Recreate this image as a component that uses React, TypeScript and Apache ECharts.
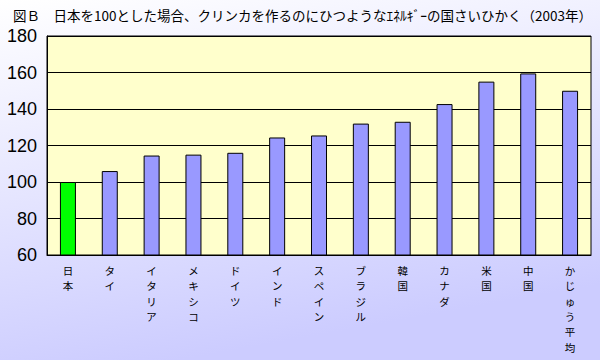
import React, { useEffect, useRef } from "react";
import * as echarts from "echarts";

const titleText = "図Ｂ　日本を100とした場合、クリンカを作るのにひつようなｴﾈﾙｷﾞｰの国さいひかく（2003年）";
const categories = ["日本", "タイ", "イタリア", "メキシコ", "ドイツ", "インド", "スペイン", "ブラジル", "韓国", "カナダ", "米国", "中国", "かじゅう平均"];
const values = [100, 106, 114.5, 115, 116, 124.4, 125.5, 132, 133, 142.7, 155, 159.5, 150];
const highlight = "日本";
const yMin = 60;
const yMax = 180;
const yInterval = 20;

export default function App() {
  const ref = useRef<HTMLDivElement>(null);
  useEffect(() => {
    if (!ref.current) return;
    const chart = echarts.init(ref.current, undefined, { renderer: "svg" });
    chart.setOption({
      animation: false,
      backgroundColor: {
        type: "linear",
        x: 0, y: 0, x2: 0.3, y2: 1,
        colorStops: [
          { offset: 0, color: "#ffffff" },
          { offset: 1, color: "#ccccff" },
        ],
      },
      title: {
        text: titleText,
        left: 8,
        top: 3,
        textStyle: { fontSize: 13.5, fontWeight: "normal", color: "#000", fontFamily: "Noto Sans CJK JP" },
      },
      grid: {
        left: 47,
        right: 9,
        top: 36,
        bottom: 105,
        show: true,
        backgroundColor: "#ffffcc",
        borderColor: "#000",
        borderWidth: 1,
      },
      xAxis: {
        type: "category",
        data: categories,
        axisLine: { lineStyle: { color: "#000", width: 1 } },
        axisTick: { inside: true, length: 4, lineStyle: { color: "#000" }, alignWithLabel: false },
        axisLabel: {
          interval: 0,
          color: "#000",
          fontSize: 10.5,
          lineHeight: 15.3,
          margin: 8,
          fontFamily: "Noto Sans CJK JP",
          formatter: (v: string) => v.split("").join("\n"),
        },
      },
      yAxis: {
        type: "value",
        min: yMin,
        max: yMax,
        interval: yInterval,
        axisLine: { show: true, lineStyle: { color: "#000" } },
        axisTick: { show: false },
        splitLine: { lineStyle: { color: "#000", width: 1 } },
        axisLabel: { color: "#000", fontSize: 18, margin: 10, fontFamily: "Liberation Sans" },
      },
      series: [
        {
          type: "bar",
          barWidth: 16,
          data: values.map((v, i) => ({
            value: v,
            itemStyle: { color: categories[i] === highlight ? "#00ff00" : "#9999ff" },
          })),
          itemStyle: { borderColor: "#000", borderWidth: 1 },
        },
      ],
    });
    return () => chart.dispose();
  }, []);
  return <div ref={ref} style={{ position: "fixed", left: 0, top: 0, width: 600, height: 360 }} />;
}
